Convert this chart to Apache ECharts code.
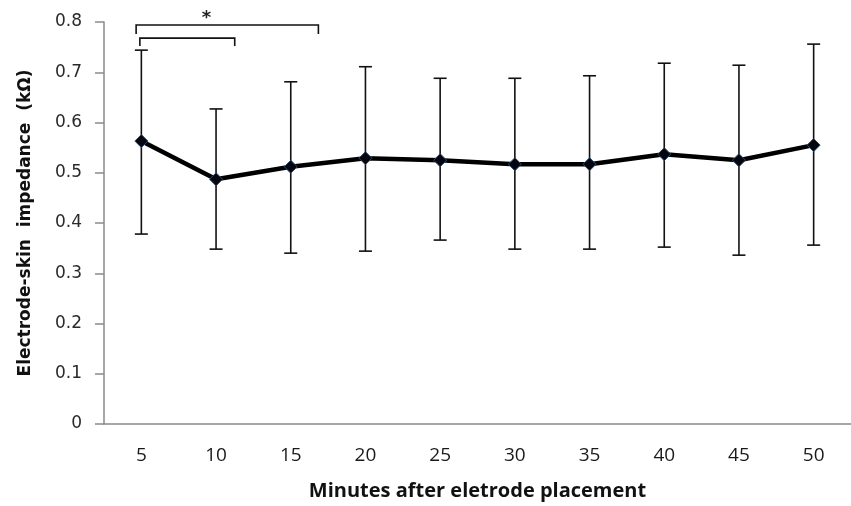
<!DOCTYPE html>
<html>
<head>
<meta charset="utf-8">
<script src="https://cdn.jsdelivr.net/npm/echarts@6/dist/echarts.min.js"></script>
<style>html,body{margin:0;padding:0;background:#fff;}#c{width:851px;height:506px;}</style>
</head>
<body>
<div id="c"></div>
<script>
var categories = ['5','10','15','20','25','30','35','40','45','50'];
var means = [0.563, 0.487, 0.512, 0.529, 0.525, 0.517, 0.517, 0.537, 0.525, 0.555];
var upper = [0.744, 0.627, 0.681, 0.711, 0.688, 0.688, 0.693, 0.718, 0.714, 0.756];
var lower = [0.378, 0.348, 0.340, 0.344, 0.366, 0.348, 0.348, 0.352, 0.336, 0.356];
var yTicks = [0, 0.1, 0.2, 0.3, 0.4, 0.5, 0.6, 0.7, 0.8];
// brackets: [fromIndex, fromOffset(band), toIndex, toOffset(band), barY, legY]
var brackets = [
  [0, -0.07, 2, 0.37, 0.794, 0.776],
  [0, -0.02, 1, 0.25, 0.768, 0.752]
];
// star: [index, offset(band), y]
var stars = [[1, -0.13, 0.808]];

var chart = echarts.init(document.getElementById('c'), null, {renderer: 'canvas'});
var errData = categories.map(function (c, i) { return [i, lower[i], upper[i]]; });

chart.setOption({
  animation: false,
  backgroundColor: '#ffffff',
  grid: {left: 104, top: 22, width: 757, height: 402, containLabel: false},
  xAxis: {
    type: 'category',
    data: categories,
    boundaryGap: true,
    axisLine: {lineStyle: {color: '#8a8a8a', width: 1.5}},
    axisTick: {show: false},
    axisLabel: {margin: 22, fontFamily: 'Open Sans', fontSize: 19, color: '#1a1a1a'},
    name: 'Minutes after eletrode placement',
    nameLocation: 'middle',
    nameGap: 57,
    nameTextStyle: {fontFamily: 'Open Sans', fontWeight: 'bold', fontSize: 20, color: '#111'}
  },
  yAxis: {
    type: 'value',
    min: 0, max: 0.8, interval: 0.1,
    axisLine: {show: true, lineStyle: {color: '#8a8a8a', width: 1.5}},
    axisTick: {show: true, length: 9, lineStyle: {color: '#8a8a8a', width: 1.5}},
    splitLine: {show: false},
    axisLabel: {
      margin: 22, fontFamily: 'DejaVu Sans', fontSize: 17, color: '#2a2a2a',
      formatter: function (v) { return v === 0 ? '0' : v.toFixed(1); }
    },
    name: 'Electrode-skin  impedance  (k\u03A9)',
    nameLocation: 'middle',
    nameGap: 70,
    nameTextStyle: {fontFamily: 'DejaVu Sans', fontWeight: 'bold', fontSize: 17, color: '#111'}
  },
  series: [
    {
      type: 'custom',
      name: 'err',
      data: errData,
      encode: {x: 0, y: [1, 2]},
      z: 2,
      renderItem: function (params, api) {
        var x = api.value(0);
        var lo = api.coord([x, api.value(1)]);
        var hi = api.coord([x, api.value(2)]);
        var w = 6.5;
        var st = {stroke: '#111', lineWidth: 1.6};
        return {type: 'group', children: [
          {type: 'line', shape: {x1: lo[0], y1: lo[1], x2: hi[0], y2: hi[1]}, style: st},
          {type: 'line', shape: {x1: lo[0] - w, y1: lo[1], x2: lo[0] + w, y2: lo[1]}, style: st},
          {type: 'line', shape: {x1: hi[0] - w, y1: hi[1], x2: hi[0] + w, y2: hi[1]}, style: st}
        ]};
      }
    },
    {
      type: 'line',
      data: means,
      z: 3,
      lineStyle: {color: '#000', width: 4.5},
      symbol: 'diamond',
      symbolSize: 13,
      itemStyle: {color: '#05050f', borderColor: '#2a4a6a', borderWidth: 1}
    },
    {
      type: 'custom',
      name: 'brackets',
      data: brackets,
      encode: {x: 0, y: 4},
      z: 4,
      renderItem: function (params, api) {
        var band = api.size([1, 0])[0];
        var a = api.coord([api.value(0), api.value(4)]);
        var b = api.coord([api.value(2), api.value(4)]);
        var leg = api.coord([api.value(0), api.value(5)]);
        var x1 = a[0] + api.value(1) * band;
        var x2 = b[0] + api.value(3) * band;
        return {type: 'polyline', shape: {points: [[x1, leg[1]], [x1, a[1]], [x2, a[1]], [x2, leg[1]]]},
                style: {stroke: '#111', lineWidth: 1.6, fill: null}};
      }
    },
    {
      type: 'custom',
      name: 'stars',
      data: stars,
      encode: {x: 0, y: 2},
      z: 4,
      renderItem: function (params, api) {
        var band = api.size([1, 0])[0];
        var p = api.coord([api.value(0), api.value(2)]);
        return {type: 'text', x: p[0] + api.value(1) * band, y: p[1],
                style: {text: '*', fontFamily: 'DejaVu Sans', fontWeight: 'bold', fontSize: 18,
                        fill: '#222', align: 'center', verticalAlign: 'middle'}};
      }
    }
  ]
});
</script>
</body>
</html>
